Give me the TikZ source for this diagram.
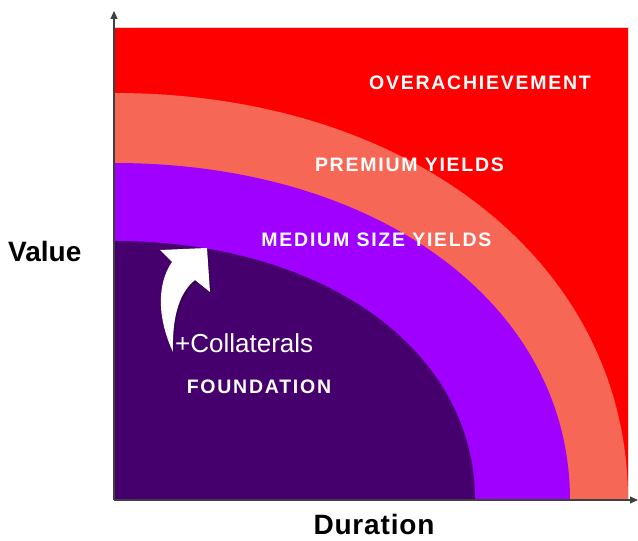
\documentclass[tikz,border=0pt]{standalone}
\usepackage{fontspec}
\setmainfont{Liberation Sans}
\newfontfamily\spacedfont[LetterSpace=9]{Liberation Sans}
\newfontfamily\widefont[LetterSpace=3]{Liberation Sans}
\usetikzlibrary{arrows.meta}
\definecolor{cred}{HTML}{FF0000}
\definecolor{csalmon}{HTML}{F76756}
\definecolor{cmed}{HTML}{A000FF}
\definecolor{cdark}{HTML}{46006E}
\tikzset{
  zone/.style={font=\spacedfont\bfseries\fontsize{19.5}{22}\selectfont, text=white, inner sep=0pt, anchor=base},
  axislabel/.style={font=\bfseries\fontsize{28}{30}\selectfont, text=black, inner sep=0pt},
  axisline/.style={draw=black!75, line width=1.2pt, -{Triangle[length=8pt,width=7pt]}},
}
\begin{document}
\begin{tikzpicture}[x=1pt,y=1pt]
\useasboundingbox (0,0) rectangle (638,541);
% background field
\fill[cred, draw=black!15, line width=0.5pt] (114,41) rectangle (628.5,514);
% bands
\fill[csalmon] (114,448) .. controls ({114+0.58*514},448) and (628,{41+0.58*407}) .. (628,41) -- (114,41) -- cycle;
\fill[cmed] (114,378) .. controls ({114+0.58*456},378) and (570,{41+0.58*337}) .. (570,41) -- (114,41) -- cycle;
\fill[cdark] (114,300) .. controls ({114+0.58*361},300) and (475,{41+0.58*259}) .. (475,41) -- (114,41) -- cycle;
% axes
\coordinate (O) at (114,41);
\coordinate (Ytop) at (114,530);
\coordinate (Xend) at (638,41);
\draw[axisline] (O) -- (Ytop);
\draw[axisline] (O) -- (Xend);
% curved arrow with shadow
\fill[black, opacity=0.25, shift={(1.5,-1.5)}]
  (173,189) .. controls (158,221) and (156,256) .. (172,279)
  -- (160,291) -- (207,293) -- (210,249) -- (195,261)
  .. controls (180,249) and (172,226) .. (173,189) -- cycle;
\fill[white]
  (173,189) .. controls (158,221) and (156,256) .. (172,279)
  -- (160,291) -- (207,293) -- (210,249) -- (195,261)
  .. controls (180,249) and (172,226) .. (173,189) -- cycle;
% labels
\node[zone] (over) at (480,451) {OVERACHIEVEMENT};
\node[zone] (prem) at (409.5,369) {PREMIUM YIELDS};
\node[zone] (med) at (376.5,294) {MEDIUM SIZE YIELDS};
\node[zone] (found) at (259,147) {FOUNDATION};
\node[font=\fontsize{26}{28}\selectfont, text=white, inner sep=0pt, anchor=base west] (coll) at (175,188) {+Collaterals};
\node[axislabel, anchor=base west] (value) at (8,279) {Value};
\node[axislabel, font=\widefont\bfseries\fontsize{28}{30}\selectfont, anchor=base] (dur) at (374,6) {Duration};
\end{tikzpicture}
\end{document}
